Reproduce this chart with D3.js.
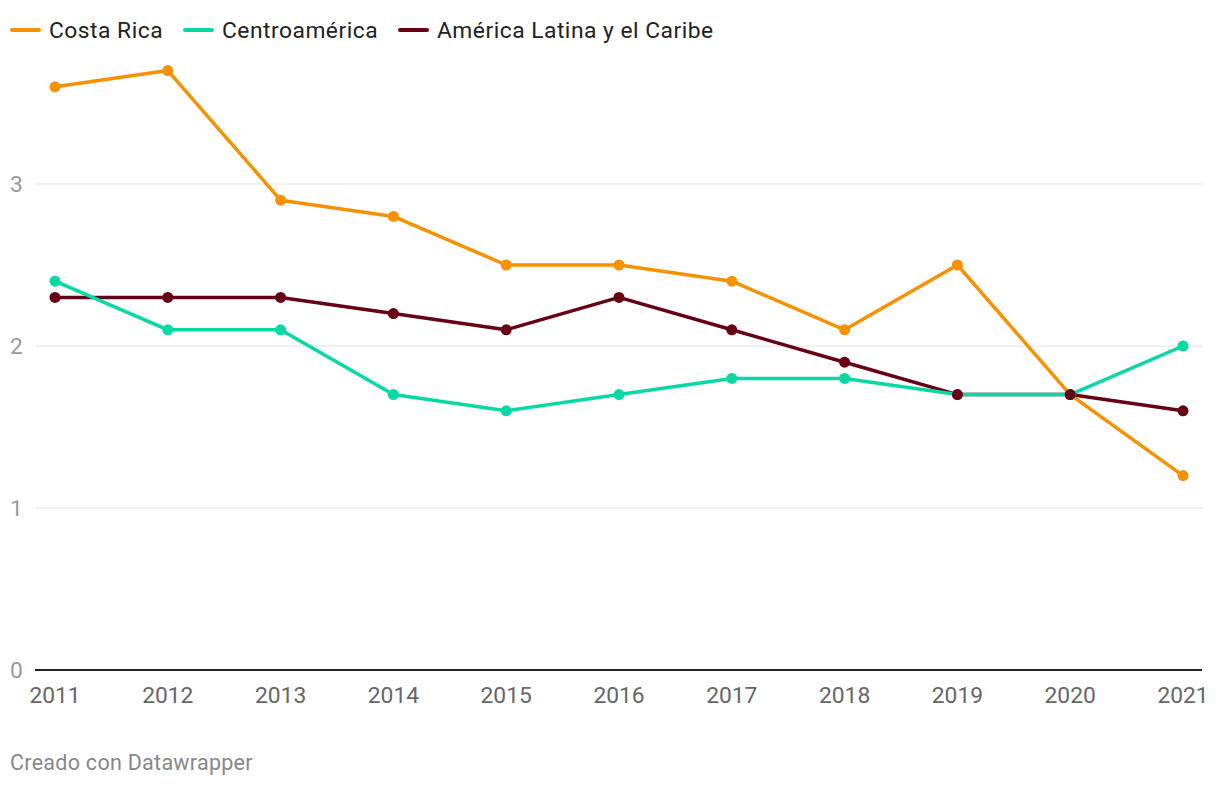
<!DOCTYPE html>
<html><head><meta charset="utf-8">
<script src="https://cdn.jsdelivr.net/npm/d3@7"></script>
<style>body{margin:0;background:#fff;font-family:Roboto,sans-serif;}</style>
</head><body><svg id="c" width="1220" height="786"></svg>
<script>
const years = [2011,2012,2013,2014,2015,2016,2017,2018,2019,2020,2021];
const costaRica = [3.6,3.7,2.9,2.8,2.5,2.5,2.4,2.1,2.5,1.7,1.2];
const centroamerica = [2.4,2.1,2.1,1.7,1.6,1.7,1.8,1.8,1.7,1.7,2.0];
const americaLatina = [2.3,2.3,2.3,2.2,2.1,2.3,2.1,1.9,1.7,1.7,1.6];
const seriesNames = ["Costa Rica","Centroamérica","América Latina y el Caribe"];
const seriesColors = ["#f79100","#06d9a3","#680014"];
const yTicks = [0,1,2,3];

const svg = d3.select("#c");
const x = d3.scalePoint().domain(years).range([55,1183]);
const y = d3.scaleLinear().domain([0,3]).range([670,184]);
const FS = 22.8;

svg.append("g").selectAll("line").data(yTicks.filter(d=>d>0)).join("line")
  .attr("x1",36).attr("x2",1202).attr("y1",d=>y(d)).attr("y2",d=>y(d))
  .attr("stroke","#e2e2e2").attr("stroke-width",1);
svg.append("line").attr("x1",35).attr("x2",1202).attr("y1",y(0)).attr("y2",y(0))
  .attr("stroke","#222").attr("stroke-width",2);
svg.append("g").selectAll("text").data(yTicks).join("text")
  .attr("x",10).attr("y",d=>y(d)+8).text(d=>d)
  .attr("font-size",FS).attr("fill","#9a9a9a").attr("font-family","Roboto");
svg.append("g").selectAll("text").data(years).join("text")
  .attr("x",d=>x(d)).attr("y",703).attr("text-anchor","middle").text(d=>d)
  .attr("font-size",FS).attr("fill","#666").attr("font-family","Roboto");

const data = [costaRica, centroamerica, americaLatina];
const line = d3.line().x((d,i)=>x(years[i])).y(d=>y(d));
[0,2,1].forEach(k=>{
  svg.append("path").datum(data[k]).attr("d",line).attr("fill","none")
    .attr("stroke",seriesColors[k]).attr("stroke-width",3.5).attr("stroke-linejoin","round");
});
[0,1,2].forEach(k=>{
  svg.append("g").selectAll("circle").data(data[k]).join("circle")
    .attr("cx",(d,i)=>x(years[i])).attr("cy",d=>y(d)).attr("r",5.5).attr("fill",seriesColors[k]);
});

const lg = svg.append("g");
const legX = [10,183,398];
seriesNames.forEach((n,k)=>{
  lg.append("line").attr("x1",legX[k]+2).attr("x2",legX[k]+29).attr("y1",30).attr("y2",30)
    .attr("stroke",seriesColors[k]).attr("stroke-width",4).attr("stroke-linecap","round");
  lg.append("text").attr("x",legX[k]+39).attr("y",38).text(n)
    .attr("font-size",FS).attr("letter-spacing",0.5).attr("fill","#222").attr("font-family","Roboto");
});
svg.append("text").attr("x",10).attr("y",770).text("Creado con Datawrapper")
  .attr("font-size",21.5).attr("letter-spacing",0.28).attr("fill","#888").attr("font-family","Roboto");
</script></body></html>
